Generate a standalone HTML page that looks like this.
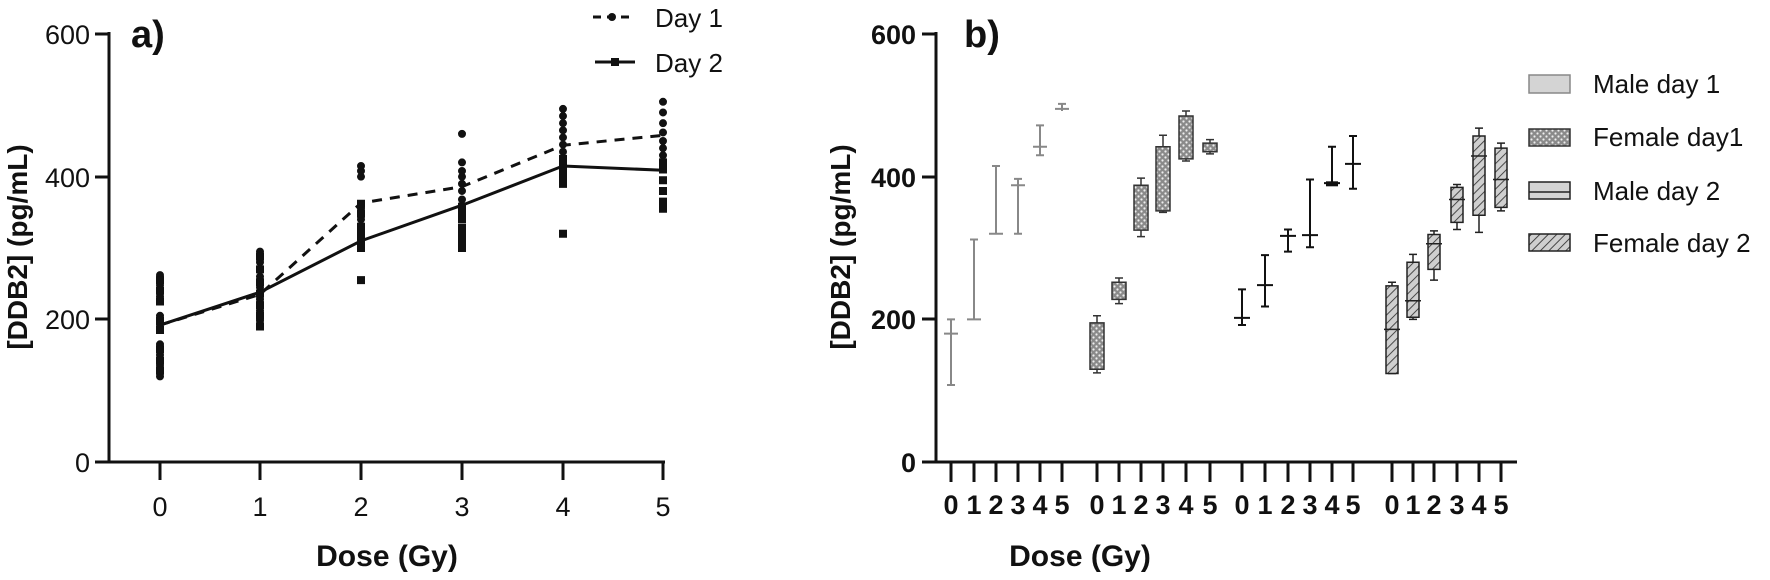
<!DOCTYPE html>
<html><head><meta charset="utf-8"><style>
html,body{margin:0;padding:0;background:#fff;width:1770px;height:580px;overflow:hidden}
svg{display:block}
text{font-family:"Liberation Sans",Arial,sans-serif;fill:#111}
.b{font-weight:bold}
.ns{vector-effect:non-scaling-stroke}
</style></head><body>
<svg width="1770" height="580" viewBox="0 0 1770 580" xmlns="http://www.w3.org/2000/svg">
<defs>
  <pattern id="chkD" patternUnits="userSpaceOnUse" width="6" height="6" patternTransform="scale(1,-1.402)">
    <rect width="6" height="6" fill="#8a8a8a"/><circle cx="1.5" cy="1.5" r="1.1" fill="#eee"/><circle cx="4.5" cy="4.5" r="1.1" fill="#eee"/>
  </pattern>
  <pattern id="htD" patternUnits="userSpaceOnUse" width="6" height="6" patternTransform="scale(1,-1.402) rotate(45)">
    <rect width="6" height="6" fill="#cfcfcf"/><line x1="0" y1="0" x2="0" y2="6" stroke="#444" stroke-width="2"/>
  </pattern>
  <pattern id="chk" patternUnits="userSpaceOnUse" width="6" height="6">
    <rect width="6" height="6" fill="#8a8a8a"/><circle cx="1.5" cy="1.5" r="1.1" fill="#eee"/><circle cx="4.5" cy="4.5" r="1.1" fill="#eee"/>
  </pattern>
  <pattern id="ht" patternUnits="userSpaceOnUse" width="6" height="6" patternTransform="rotate(45)">
    <rect width="6" height="6" fill="#cfcfcf"/><line x1="0" y1="0" x2="0" y2="6" stroke="#444" stroke-width="2"/>
  </pattern>
</defs>

<!-- ===== Panel a ===== -->
<text x="131" y="47" class="b" font-size="38">a)</text>
<g stroke="#111" stroke-width="3" fill="none">
  <line x1="109" y1="32" x2="109" y2="463"/>
  <line x1="95" y1="462" x2="665" y2="462"/>
  <line x1="95" y1="34" x2="109" y2="34"/>
  <line x1="95" y1="177" x2="109" y2="177"/>
  <line x1="95" y1="319" x2="109" y2="319"/>
  <line x1="160" y1="462" x2="160" y2="480"/>
  <line x1="260" y1="462" x2="260" y2="480"/>
  <line x1="361" y1="462" x2="361" y2="480"/>
  <line x1="462" y1="462" x2="462" y2="480"/>
  <line x1="563" y1="462" x2="563" y2="480"/>
  <line x1="663" y1="462" x2="663" y2="480"/>
</g>
<g font-size="27" text-anchor="end">
  <text x="90" y="44">600</text><text x="90" y="187">400</text><text x="90" y="329">200</text><text x="90" y="472">0</text>
</g>
<g font-size="27" text-anchor="middle">
  <text x="160" y="516">0</text><text x="260" y="516">1</text><text x="361" y="516">2</text>
  <text x="462" y="516">3</text><text x="563" y="516">4</text><text x="663" y="516">5</text>
</g>
<text x="387" y="566" font-size="30" class="b" text-anchor="middle">Dose (Gy)</text>
<text transform="translate(27,247) rotate(-90)" font-size="28" class="b" text-anchor="middle">[DDB2] (pg/mL)</text>

<g transform="translate(0,462) scale(1,-0.7133)" fill="none" stroke="#111">
  <g class="ns" stroke-width="8" stroke-linecap="round">
    <path class="ns" d="M160 120v0M160 135v0M160 150v0M160 165v0M160 192v0M160 205v0M160 232v0M160 248v0M160 262v0
    M260 198v0M260 212v0M260 228v0M260 245v0M260 260v0M260 280v0M260 295v0
    M361 340v0M361 355v0M361 400v0M361 408v0M361 415v0
    M462 368v0M462 380v0M462 390v0M462 400v0M462 408v0M462 420v0M462 460v0
    M563 435v0M563 445v0M563 455v0M563 465v0M563 475v0M563 485v0M563 495v0
    M663 430v0M663 440v0M663 450v0M663 462v0M663 475v0M663 490v0M663 505v0"/>
  </g>
  <path class="ns" stroke-width="8" stroke-linecap="square" d="M160 128v0M160 142v0M160 158v0M160 185v0M160 198v0M160 225v0M160 240v0M160 255v0
    M260 190v0M260 205v0M260 220v0M260 236v0M260 252v0M260 270v0M260 288v0
    M361 255v0M361 300v0M361 308v0M361 315v0M361 322v0M361 330v0M361 348v0M361 362v0
    M462 300v0M462 308v0M462 318v0M462 328v0M462 340v0M462 350v0M462 358v0
    M563 320v0M563 390v0M563 398v0M563 405v0M563 415v0M563 425v0
    M663 355v0M663 365v0M663 380v0M663 395v0M663 410v0M663 420v0"/>
  <polyline class="ns" stroke-width="3" stroke-dasharray="10,8" points="160,192 260,235 361,363 462,386 563,444 663,458"/>
  <polyline class="ns" stroke-width="3" points="160,192 260,238 361,310 462,360 563,415 663,409"/>
</g>
<!-- legend a -->
<line x1="593" y1="17" x2="633" y2="17" stroke="#111" stroke-width="3" stroke-dasharray="8,6"/>
<circle cx="612" cy="17" r="4" fill="#111"/>
<line x1="595" y1="62" x2="635" y2="62" stroke="#111" stroke-width="3"/>
<rect x="611" y="58" width="8" height="8" fill="#111"/>
<text x="655" y="27" font-size="26">Day 1</text>
<text x="655" y="72" font-size="26">Day 2</text>

<!-- ===== Panel b ===== -->
<text x="964" y="47" class="b" font-size="38">b)</text>
<g stroke="#111" stroke-width="3" fill="none">
  <line x1="936" y1="32" x2="936" y2="463"/>
  <line x1="922" y1="462" x2="1517" y2="462"/>
  <line x1="922" y1="34" x2="936" y2="34"/>
  <line x1="922" y1="177" x2="936" y2="177"/>
  <line x1="922" y1="319" x2="936" y2="319"/>
  <path d="M951 462v20M974 462v20M996 462v20M1018 462v20M1040 462v20M1062 462v20
  M1097 462v20M1119 462v20M1141 462v20M1163 462v20M1186 462v20M1210 462v20
  M1242 462v20M1265 462v20M1288 462v20M1310 462v20M1332 462v20M1353 462v20
  M1392 462v20M1413 462v20M1434 462v20M1457 462v20M1479 462v20M1501 462v20"/>
</g>
<g font-size="27" class="b" text-anchor="end">
  <text x="916" y="44">600</text><text x="916" y="187">400</text><text x="916" y="329">200</text><text x="916" y="472">0</text>
</g>
<g font-size="27" class="b" text-anchor="middle">
  <text x="951" y="514">0</text><text x="974" y="514">1</text><text x="996" y="514">2</text><text x="1018" y="514">3</text><text x="1040" y="514">4</text><text x="1062" y="514">5</text>
  <text x="1097" y="514">0</text><text x="1119" y="514">1</text><text x="1141" y="514">2</text><text x="1163" y="514">3</text><text x="1186" y="514">4</text><text x="1210" y="514">5</text>
  <text x="1242" y="514">0</text><text x="1265" y="514">1</text><text x="1288" y="514">2</text><text x="1310" y="514">3</text><text x="1332" y="514">4</text><text x="1353" y="514">5</text>
  <text x="1392" y="514">0</text><text x="1413" y="514">1</text><text x="1434" y="514">2</text><text x="1457" y="514">3</text><text x="1479" y="514">4</text><text x="1501" y="514">5</text>
</g>
<text x="1080" y="566" font-size="30" class="b" text-anchor="middle">Dose (Gy)</text>
<text transform="translate(850,247) rotate(-90)" font-size="28" class="b" text-anchor="middle">[DDB2] (pg/mL)</text>

<g transform="translate(0,462) scale(1,-0.7133)" fill="none">
  <!-- Male day 1 (gray whiskers) -->
  <path class="ns" stroke="#888" stroke-width="2" d="
  M951 108V200M947 108h8M947 200h8M944 180h14
  M974 200V312M970 312h8M967 200h14
  M996 320V415M992 415h8M989 320h14
  M1018 320V397M1014 320h8M1014 397h8M1011 388h14
  M1040 430V472M1036 430h8M1036 472h8M1033 442h14
  M1062 492V502M1058 502h8M1055 495h14"/>
  <!-- Female day 1 (checker boxes) -->
  <g stroke="#333" stroke-width="1.5">
    <path class="ns" d="M1097 125V205M1093 125h8M1093 205h8
    M1119 222V258M1115 222h8M1115 258h8
    M1141 316V398M1137 316h8M1137 398h8
    M1163 350V458M1159 350h8M1159 458h8
    M1186 422V492M1182 422h8M1182 492h8
    M1210 432V452M1206 432h8M1206 452h8"/>
    <rect class="ns" x="1090" y="130" width="14" height="65" fill="url(#chkD)"/>
    <rect class="ns" x="1112" y="228" width="14" height="24" fill="url(#chkD)"/>
    <rect class="ns" x="1134" y="325" width="14" height="63" fill="url(#chkD)"/>
    <rect class="ns" x="1156" y="352" width="14" height="90" fill="url(#chkD)"/>
    <rect class="ns" x="1179" y="425" width="14" height="60" fill="url(#chkD)"/>
    <rect class="ns" x="1203" y="435" width="14" height="12" fill="url(#chkD)"/>
  </g>
  <!-- Male day 2 (black whiskers) -->
  <path class="ns" stroke="#111" stroke-width="2" d="
  M1242 192V242M1238 192h8M1238 242h8M1234 202h16
  M1265 218V290M1261 218h8M1261 290h8M1257 248h16
  M1288 295V326M1284 295h8M1284 326h8M1280 317h16
  M1310 301V396M1306 301h8M1306 396h8M1302 318h16
  M1332 389V442M1328 442h8M1324 391h16
  M1353 383V457M1349 383h8M1349 457h8M1345 418h16"/>
  <path class="ns" stroke="#111" stroke-width="5" d="M1326 390h12"/>
  <!-- Female day 2 (hatched boxes) -->
  <g stroke="#222" stroke-width="1.5">
    <path class="ns" d="M1392 124V252M1388 252h8M1388 124h8
    M1413 200V291M1409 200h8M1409 291h8
    M1434 255V324M1430 255h8M1430 324h8
    M1457 326V389M1453 326h8M1453 389h8
    M1479 322V468M1475 322h8M1475 468h8
    M1501 352V447M1497 352h8M1497 447h8"/>
    <rect class="ns" x="1386" y="124" width="12" height="123" fill="url(#htD)"/>
    <rect class="ns" x="1407" y="203" width="12" height="77" fill="url(#htD)"/>
    <rect class="ns" x="1428" y="270" width="12" height="49" fill="url(#htD)"/>
    <rect class="ns" x="1451" y="336" width="12" height="49" fill="url(#htD)"/>
    <rect class="ns" x="1473" y="346" width="12" height="111" fill="url(#htD)"/>
    <rect class="ns" x="1495" y="357" width="12" height="83" fill="url(#htD)"/>
    <path class="ns" d="M1384 186h16M1405 226h16M1426 306h16M1449 368h16M1471 429h16M1493 396h16"/>
  </g>
</g>

<!-- legend b -->
<rect x="1529" y="75" width="41" height="18" fill="#d4d4d4" stroke="#888" stroke-width="1.5"/>
<rect x="1529" y="129" width="41" height="17" fill="url(#chk)" stroke="#333" stroke-width="1.5"/>
<rect x="1529" y="182" width="41" height="17" fill="#d4d4d4" stroke="#222" stroke-width="1.5"/>
<line x1="1529" y1="192" x2="1570" y2="192" stroke="#222" stroke-width="1.5"/>
<rect x="1529" y="234" width="41" height="17" fill="url(#ht)" stroke="#222" stroke-width="1.5"/>
<g font-size="26">
  <text x="1593" y="93">Male day 1</text>
  <text x="1593" y="146">Female day1</text>
  <text x="1593" y="200">Male day 2</text>
  <text x="1593" y="252">Female day 2</text>
</g>
</svg>
</body></html>
